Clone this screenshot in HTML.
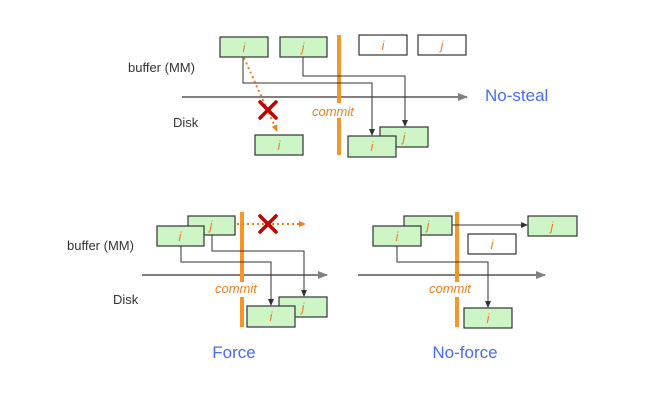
<!DOCTYPE html>
<html><head><meta charset="utf-8"><style>
html,body{margin:0;padding:0;background:#fff;}
svg{display:block;}
text{font-family:"Liberation Sans",sans-serif;}
.lbl{font-size:13px;fill:#333;}
.t{font-size:17px;fill:#4a6cf5;}
.v{font-size:13px;fill:#f07d1e;font-style:italic;}
.cm{font-size:13px;fill:#f07d1e;font-style:italic;}
.g{fill:#cdf5c6;stroke:#333;stroke-width:1.2;}
.w{fill:#fff;stroke:#333;stroke-width:1.2;}
.c{stroke:#f5962a;stroke-width:4;}
.ln{fill:none;stroke:#333;stroke-width:1;}
.ax{stroke:#808080;stroke-width:2;}
.dot{stroke:#f07d1e;stroke-width:2;stroke-dasharray:2,3;fill:none;}
.x{stroke:#c00000;stroke-width:3.5;stroke-linecap:round;}
</style></head><body>
<svg width="650" height="401" viewBox="0 0 650 401">
<defs>
<marker id="a" markerWidth="8" markerHeight="8" refX="6" refY="4" orient="auto" markerUnits="userSpaceOnUse"><path d="M0,1 L7,4 L0,7 Z" fill="#333"/></marker>
<marker id="ag" markerWidth="10" markerHeight="10" refX="9" refY="5" orient="auto" markerUnits="userSpaceOnUse"><path d="M0,1 L10,5 L0,9 Z" fill="#808080"/></marker>
<marker id="ao" markerWidth="8" markerHeight="8" refX="6" refY="4" orient="auto" markerUnits="userSpaceOnUse"><path d="M0,1 L7,4 L0,7 Z" fill="#f07d1e"/></marker>
</defs>

<!-- TOP: No-steal -->
<text class="lbl" x="128" y="72">buffer (MM)</text>
<text class="lbl" x="173" y="127">Disk</text>
<line class="ax" x1="182" y1="97" x2="467" y2="97" marker-end="url(#ag)"/>
<text class="t" x="485" y="101">No-steal</text>
<rect class="g" x="220" y="37" width="48" height="20"/><text class="v" x="244" y="52" text-anchor="middle">i</text>
<rect class="g" x="280" y="37" width="47" height="20"/><text class="v" x="303" y="52" text-anchor="middle">j</text>
<rect class="w" x="359" y="35" width="48" height="20"/><text class="v" x="383" y="50" text-anchor="middle">i</text>
<rect class="w" x="418" y="35" width="48" height="20"/><text class="v" x="442" y="50" text-anchor="middle">j</text>
<line class="c" x1="339" y1="35" x2="339" y2="103"/>
<line class="c" x1="339" y1="118" x2="339" y2="155"/>
<text class="cm" x="312" y="116">commit</text>
<polyline class="ln" points="243,57 243,83 372,83 372,135" marker-end="url(#a)"/>
<polyline class="ln" points="303,57 303,76 405,76 405,126" marker-end="url(#a)"/>
<rect class="g" x="380" y="127" width="48" height="20"/><text class="v" x="404" y="142" text-anchor="middle">j</text>
<rect class="g" x="348" y="136" width="48" height="21"/><text class="v" x="372" y="151" text-anchor="middle">i</text>
<rect class="g" x="255" y="135" width="48" height="20"/><text class="v" x="279" y="150" text-anchor="middle">i</text>
<line class="dot" x1="244" y1="58" x2="277" y2="131" marker-end="url(#ao)"/>
<line class="x" x1="260" y1="102" x2="276" y2="118"/><line class="x" x1="276" y1="102" x2="260" y2="118"/>

<!-- BOTTOM LEFT: Force -->
<text class="lbl" x="67" y="250">buffer (MM)</text>
<text class="lbl" x="113" y="304">Disk</text>
<line class="ax" x1="142" y1="275" x2="327" y2="275" marker-end="url(#ag)"/>
<rect class="g" x="188" y="216" width="47" height="19"/><text class="v" x="211" y="230" text-anchor="middle">j</text>
<rect class="g" x="157" y="226" width="47" height="20"/><text class="v" x="180" y="241" text-anchor="middle">i</text>
<line class="c" x1="242" y1="212" x2="242" y2="282"/>
<line class="c" x1="242" y1="297" x2="242" y2="327"/>
<text class="cm" x="215" y="293">commit</text>
<line class="dot" x1="237" y1="224" x2="305" y2="224" marker-end="url(#ao)"/>
<line class="x" x1="260" y1="216" x2="276" y2="232"/><line class="x" x1="276" y1="216" x2="260" y2="232"/>
<polyline class="ln" points="181,246 181,262 271,262 271,305" marker-end="url(#a)"/>
<polyline class="ln" points="212,235 212,251 304,251 304,296" marker-end="url(#a)"/>
<rect class="g" x="279" y="297" width="48" height="20"/><text class="v" x="303" y="312" text-anchor="middle">j</text>
<rect class="g" x="247" y="306" width="48" height="21"/><text class="v" x="271" y="321" text-anchor="middle">i</text>
<text class="t" x="234" y="358" text-anchor="middle">Force</text>

<!-- BOTTOM RIGHT: No-force -->
<line class="ax" x1="358" y1="275" x2="545" y2="275" marker-end="url(#ag)"/>
<rect class="g" x="404" y="216" width="48" height="19"/><text class="v" x="428" y="230" text-anchor="middle">j</text>
<rect class="g" x="373" y="226" width="48" height="20"/><text class="v" x="397" y="241" text-anchor="middle">i</text>
<line class="c" x1="457" y1="212" x2="457" y2="282"/>
<line class="c" x1="457" y1="297" x2="457" y2="327"/>
<text class="cm" x="429" y="293">commit</text>
<line class="ln" x1="452" y1="225" x2="527" y2="225" marker-end="url(#a)"/>
<rect class="g" x="528" y="216" width="49" height="20"/><text class="v" x="552" y="231" text-anchor="middle">j</text>
<rect class="w" x="468" y="234" width="48" height="20"/><text class="v" x="492" y="249" text-anchor="middle">i</text>
<polyline class="ln" points="397,246 397,262 488,262 488,307" marker-end="url(#a)"/>
<rect class="g" x="464" y="308" width="48" height="20"/><text class="v" x="488" y="323" text-anchor="middle">i</text>
<text class="t" x="465" y="358" text-anchor="middle">No-force</text>
</svg>
</body></html>
